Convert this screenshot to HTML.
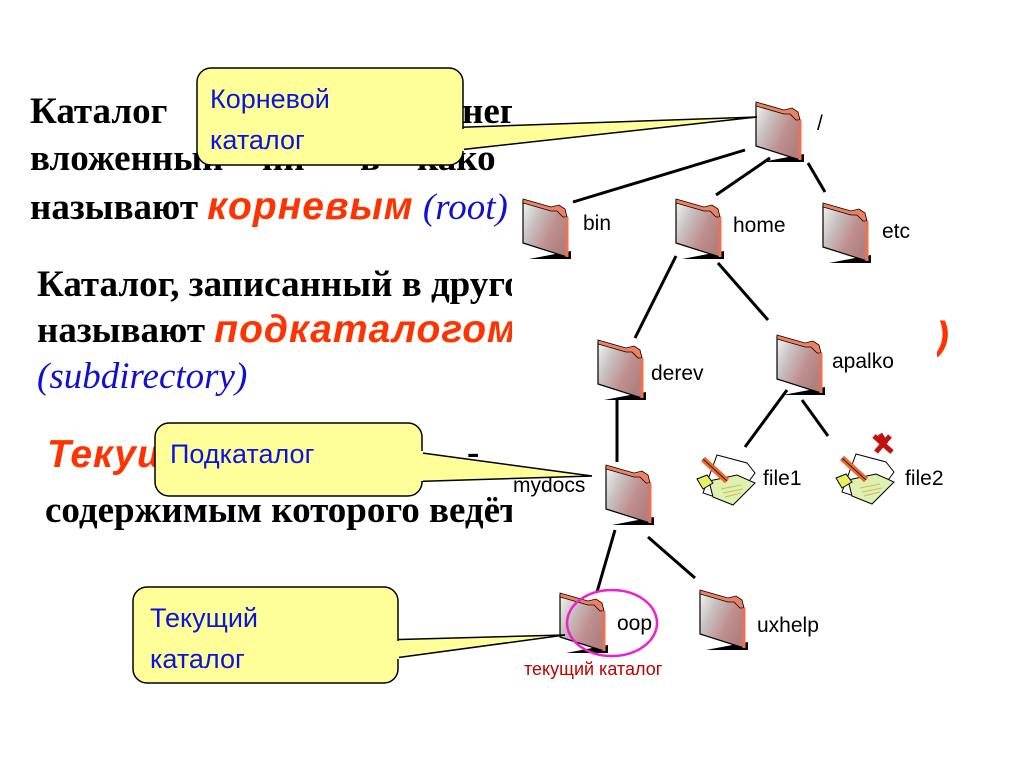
<!DOCTYPE html>
<html><head><meta charset="utf-8"><style>
html,body{margin:0;padding:0;background:#fff;}
body{width:1024px;height:767px;overflow:hidden;position:relative;font-family:"Liberation Serif",serif;}
.t{position:absolute;font-family:"Liberation Serif",serif;font-weight:bold;font-size:37px;color:#000;white-space:nowrap;line-height:37px;}
.r{color:#ff3300;font-family:"Liberation Sans",sans-serif;font-style:italic;font-weight:900;font-size:39px;letter-spacing:1px;line-height:37px;}
.b{color:#1010d0;font-style:italic;font-weight:normal;}
svg{position:absolute;left:0;top:0;}
</style></head><body>
<div class="t" style="left:30px;top:93px;">Каталог</div>
<div class="t" style="left:462px;top:93px;">нег</div>
<div class="t" style="left:30px;top:140px;">вложенный</div>
<div class="t" style="left:262px;top:140px;">ни</div>
<div class="t" style="left:360px;top:140px;">в</div>
<div class="t" style="left:417px;top:140px;">како</div>
<div class="t" style="left:30px;top:188px;">называют <span class="r">корневым</span> <span class="b">(root)</span></div>
<div class="t" style="left:37px;top:266px;">Каталог, записанный в другой</div>
<div class="t" style="left:37px;top:311px;">называют <span class="r">подкаталогом</span></div>
<div class="t b" style="left:37px;top:358px;">(subdirectory)</div>
<div class="t" style="left:47px;top:436px;"><span class="r">Текущий каталог</span></div>
<div class="t" style="left:467px;top:434px;">-</div>
<div class="t" style="left:45px;top:492px;">содержимым которого ведётся</div>
<div class="t r" style="left:936px;top:318px;">)</div>

<svg width="1024" height="767" viewBox="0 0 1024 767">
<defs>
<linearGradient id="fg" x1="0" y1="0" x2="1" y2="0.6">
<stop offset="0" stop-color="#f4f4f4"/><stop offset="0.35" stop-color="#c8c0c0"/><stop offset="0.7" stop-color="#c09090"/><stop offset="1" stop-color="#b07f7f"/></linearGradient>
<g id="fo">
<polygon points="6,60 48,60 48,52" fill="#000"/>
<polygon points="0,2 28,10 34,8 40,12 44,18 44,58 0,44" fill="url(#fg)" stroke="#000" stroke-width="1.2"/>
<polygon points="0,0 28,8 36,6 42,10 44,18 40,18 34,12 28,12 0,4" fill="#f08060" stroke="#000" stroke-width="0.8"/>
<line x1="44" y1="18" x2="44" y2="58" stroke="#f07050" stroke-width="3"/>
</g>
<g id="fi">
<polygon points="20,2 50,10 58,20 36,50 6,40" fill="#fff" stroke="#000" stroke-width="1"/>
<polygon points="12,28 40,22 58,30 36,52 16,44" fill="#e0f0b0" stroke="#000" stroke-width="1"/>
<line x1="24" y1="36" x2="44" y2="32" stroke="#c0c060"/><line x1="26" y1="40" x2="46" y2="36" stroke="#c0c060"/><line x1="28" y1="44" x2="44" y2="40" stroke="#c0c060"/>
<polygon points="0,26 10,22 16,30 6,36" fill="#e8f060" stroke="#000" stroke-width="1"/>
<line x1="6" y1="6" x2="30" y2="28" stroke="#e86a30" stroke-width="6"/>
<line x1="6" y1="6" x2="30" y2="28" stroke="#000" stroke-width="0.8"/>
</g>
</defs>
<rect x="512" y="90" width="425" height="600" fill="#fff"/>
<g stroke="#000" stroke-width="3" fill="none">
<line x1="745" y1="150" x2="573" y2="202"/>
<line x1="770" y1="158" x2="716" y2="195"/>
<line x1="808" y1="163" x2="825" y2="192"/>
<line x1="676" y1="256" x2="635" y2="338"/>
<line x1="718" y1="263" x2="768" y2="320"/>
<line x1="617" y1="398" x2="617" y2="462"/>
<line x1="787" y1="390" x2="745" y2="447"/>
<line x1="802" y1="400" x2="828" y2="436"/>
<line x1="615" y1="530" x2="597" y2="592"/>
<line x1="648" y1="537" x2="695" y2="578"/>
</g>
<use href="#fo" x="756" y="102"/>
<use href="#fo" x="523" y="199"/>
<use href="#fo" x="676" y="199"/>
<use href="#fo" x="823" y="203"/>
<use href="#fo" x="598" y="340"/>
<use href="#fo" x="777" y="335"/>
<use href="#fo" x="606" y="465"/>
<use href="#fo" x="560" y="593"/>
<use href="#fo" x="700" y="590"/>
<use href="#fi" x="697" y="453"/>
<use href="#fi" x="836" y="452"/>
<path d="M874,436 L892,452 M890,436 L876,452 M880,434 L886,444" stroke="#c01010" stroke-width="5"/>
<g font-family="Liberation Sans, sans-serif" font-size="21" fill="#000">
<text x="817" y="130">/</text>
<text x="583" y="230">bin</text>
<text x="733" y="232">home</text>
<text x="882" y="238">etc</text>
<text x="651" y="380">derev</text>
<text x="832" y="368">apalko</text>
<text x="513" y="492">mydocs</text>
<text x="763" y="485">file1</text>
<text x="905" y="485">file2</text>
<text x="617" y="630">oop</text>
<text x="757" y="632">uxhelp</text>
</g>
<ellipse cx="612" cy="623" rx="45" ry="33" fill="none" stroke="#ee22cc" stroke-width="2.5"/>
<text x="524" y="675" font-family="Liberation Sans, sans-serif" font-size="18" fill="#c00000">текущий каталог</text>

<g fill="#ffff99" stroke="#000" stroke-width="1.5">
<polygon points="440,128 757,117 440,152" />
<rect x="197" y="68" width="266" height="97" rx="14"/>
<polygon points="400,450 592,476 400,482"/>
<rect x="155" y="423" width="267" height="73" rx="14"/>
<polygon points="380,640 565,635 380,660"/>
<rect x="133" y="587" width="265" height="96" rx="14"/>
</g>
<g stroke="none" fill="#ffff99">
<rect x="430" y="129" width="34" height="22"/>
<rect x="395" y="451" width="28" height="30"/>
<rect x="372" y="641" width="27" height="18"/>
</g>
<g font-family="Liberation Sans, sans-serif" font-size="27" fill="#0a14e0">
<text x="210" y="108">Корневой</text>
<text x="210" y="149">каталог</text>
<text x="170" y="463">Подкаталог</text>
<text x="150" y="627">Текущий</text>
<text x="150" y="668">каталог</text>
</g>
</svg>
</body></html>
